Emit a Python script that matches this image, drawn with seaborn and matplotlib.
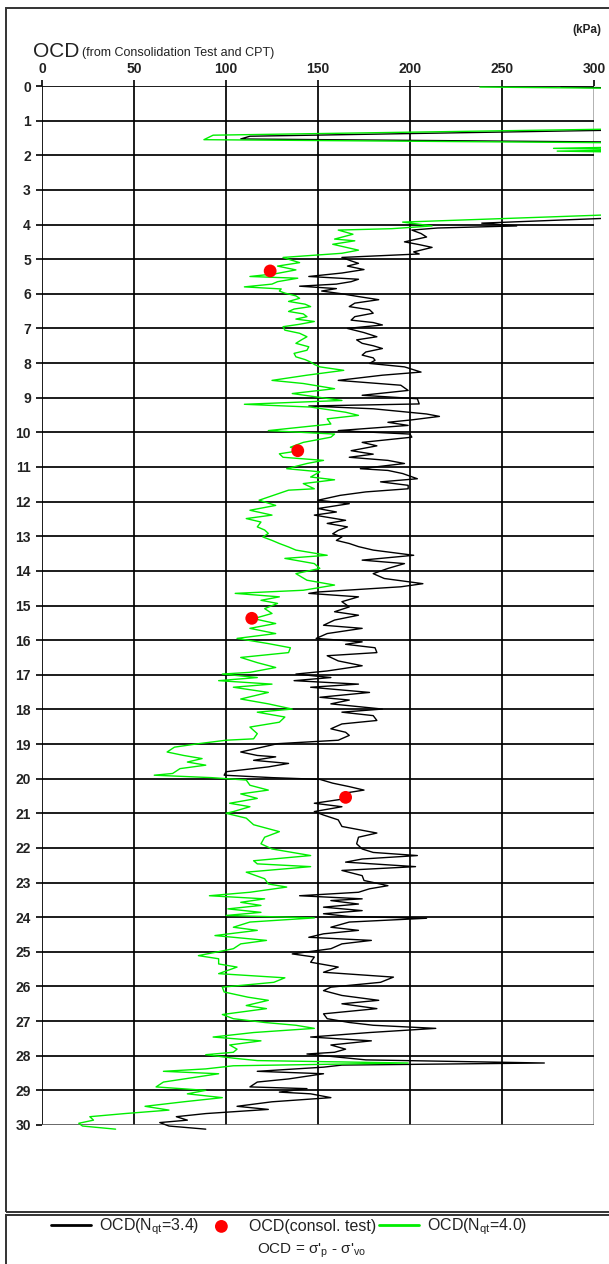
import matplotlib
matplotlib.use("Agg")
import matplotlib.pyplot as plt
from matplotlib.patches import Rectangle
import seaborn as sns

# ---------------- data ----------------
x_ticks = [0, 50, 100, 150, 200, 250, 300]
y_ticks = list(range(0, 31))

black_depth = [
    0.03, 0.08, 1.25, 1.45, 1.53, 1.63,
    3.75, 3.96, 4.04, 4.10, 4.16, 4.26, 4.36, 4.50, 4.58, 4.66, 4.79, 4.85, 4.95,
    5.05, 5.12, 5.20, 5.30, 5.40, 5.50, 5.58, 5.65, 5.72, 5.78, 5.85, 5.92, 6.00,
    6.08, 6.17, 6.27, 6.37, 6.46, 6.56, 6.66, 6.76, 6.83, 6.90, 7.00, 7.12, 7.24, 7.33, 7.43, 7.50, 7.58, 7.68, 7.77, 7.85, 7.92, 8.01,
    8.11, 8.26, 8.35, 8.50, 8.64, 8.79, 8.93, 9.03, 9.18, 9.24, 9.32, 9.47, 9.54, 9.64, 9.71, 9.80, 9.95, 10.05, 10.14, 10.29, 10.39, 10.53, 10.63, 10.72, 10.81, 10.90,
    11.05, 11.10, 11.19, 11.34, 11.43, 11.53, 11.63, 11.72, 11.82, 11.96, 12.06, 12.20, 12.30, 12.39, 12.54, 12.63, 12.73, 12.83, 12.93, 13.02, 13.12, 13.21, 13.30, 13.40,
    13.55, 13.69, 13.79, 13.93, 14.08, 14.22, 14.37, 14.46, 14.61, 14.65, 14.75, 14.89, 15.04, 15.18, 15.28, 15.42, 15.57, 15.66, 15.81, 15.95, 16.05, 16.12,
    16.22, 16.36, 16.45, 16.60, 16.74, 16.89, 16.98, 17.08, 17.17, 17.27, 17.36, 17.51, 17.65, 17.73, 17.84, 17.99, 18.08, 18.18, 18.32, 18.42, 18.56, 18.66, 18.75, 18.89,
    18.99, 19.23, 19.33, 19.37, 19.47, 19.56, 19.66, 19.80, 19.90, 19.97, 20.02, 20.13, 20.23, 20.33, 20.43, 20.57, 20.71, 20.81, 20.95, 21.05, 21.19, 21.38, 21.57,
    21.69, 21.88, 22.03, 22.13, 22.22, 22.32, 22.41, 22.54, 22.65, 22.80, 22.94, 23.09, 23.18, 23.28, 23.38, 23.47, 23.52, 23.62, 23.71, 23.81, 23.90, 23.98,
    24.03, 24.14, 24.29, 24.38, 24.48, 24.58, 24.67, 24.77, 24.91, 25.06, 25.15, 25.30, 25.44, 25.59, 25.73, 25.88, 26.02, 26.12, 26.26, 26.40, 26.50, 26.64, 26.79, 26.93,
    27.04, 27.12, 27.21, 27.33, 27.46, 27.57, 27.69, 27.81, 27.90, 27.95, 28.05, 28.12, 28.21, 28.27, 28.33, 28.45, 28.52, 28.67, 28.76, 28.90, 28.95, 29.05, 29.10, 29.21, 29.33, 29.46, 29.55, 29.67, 29.76, 29.86, 29.93, 30.03, 30.12,
]
black_ocd = [
    282, 340, 340, 113, 108, 340,
    340, 239, 258, 215, 201, 206, 209, 197, 205, 212, 202, 205, 163,
    168, 172, 166, 175, 163, 145, 172, 168, 160, 140, 160, 152, 163,
    172, 183, 170, 167, 178, 180, 170, 168, 180, 185, 166, 175, 182, 171, 174, 180, 185, 176, 174, 180, 181, 178,
    197, 206, 185, 161, 195, 199, 174, 204, 205, 145, 180, 209, 216, 201, 188, 199, 161, 200, 201, 174, 182, 168, 180, 167, 188, 197,
    173, 188, 196, 204, 184, 199, 199, 176, 162, 150, 167, 150, 160, 148, 165, 155, 166, 161, 158, 163, 160, 167, 172, 180,
    202, 174, 197, 188, 180, 186, 207, 195, 150, 145, 172, 163, 167, 159, 172, 159, 153, 174, 155, 149, 174, 165,
    181, 182, 155, 161, 174, 155, 138, 157, 137, 172, 146, 178, 151, 167, 157, 185, 163, 180, 182, 163, 157, 165, 167, 161,
    128, 108, 117, 127, 115, 134, 123, 100, 99, 125, 151, 158, 167, 175, 163, 166, 148, 163, 148, 153, 161, 163, 182,
    172, 171, 174, 180, 204, 174, 165, 203, 163, 174, 175, 188, 178, 172, 140, 174, 157, 172, 153, 174, 153, 167,
    209, 167, 157, 172, 153, 145, 179, 163, 157, 136, 148, 146, 161, 153, 191, 184, 157, 153, 163, 183, 163, 182, 153, 155,
    167, 180, 214, 178, 146, 179, 157, 165, 159, 144, 163, 176, 273, 163, 153, 117, 153, 134, 117, 113, 144, 129, 146, 157, 125, 106, 123, 89, 73, 79, 64, 69, 89,
]

green_depth = [
    0.03, 0.08, 1.22, 1.42, 1.55, 1.65, 1.75, 1.80, 1.84, 1.88, 1.92,
    3.66, 3.93, 4.04, 4.12, 4.16, 4.28, 4.42, 4.47, 4.57, 4.74, 4.83, 4.95,
    5.02, 5.10, 5.20, 5.31, 5.42, 5.50, 5.55, 5.65, 5.72, 5.80, 5.86, 5.92, 5.98,
    6.06, 6.13, 6.22, 6.30, 6.37, 6.44, 6.51, 6.58, 6.66, 6.73, 6.80, 6.88, 6.95, 7.05, 7.14, 7.24, 7.33, 7.43, 7.53, 7.63, 7.72, 7.82, 7.90, 7.97, 8.04,
    8.11, 8.21, 8.35, 8.50, 8.59, 8.74, 8.88, 9.08, 9.19, 9.27, 9.42, 9.51, 9.61, 9.76, 9.95, 10.05, 10.14, 10.29, 10.43, 10.53, 10.62, 10.72, 10.81, 10.90,
    11.05, 11.14, 11.29, 11.37, 11.48, 11.63, 11.67, 11.87, 11.96, 12.11, 12.25, 12.39, 12.49, 12.59, 12.73, 12.82, 12.92, 13.02, 13.12, 13.21, 13.31, 13.40,
    13.55, 13.64, 13.79, 13.93, 14.08, 14.27, 14.41, 14.56, 14.65, 14.75, 14.85, 14.94, 15.09, 15.23, 15.38, 15.52, 15.66, 15.81, 15.95, 16.10,
    16.22, 16.36, 16.50, 16.65, 16.79, 16.93, 16.98, 17.08, 17.17, 17.27, 17.36, 17.51, 17.70, 17.84, 17.99, 18.08, 18.22, 18.37, 18.51, 18.70, 18.85, 18.89,
    18.99, 19.09, 19.23, 19.33, 19.42, 19.52, 19.61, 19.71, 19.85, 19.90, 19.97, 20.04, 20.19, 20.33, 20.44, 20.57, 20.71, 20.81, 20.95, 21.00, 21.14, 21.33, 21.53,
    21.69, 21.88, 22.03, 22.22, 22.37, 22.46, 22.54, 22.70, 22.89, 23.04, 23.13, 23.28, 23.38, 23.47, 23.57, 23.66, 23.76, 23.86, 23.95,
    24.02, 24.14, 24.29, 24.38, 24.53, 24.67, 24.77, 24.91, 25.11, 25.20, 25.35, 25.44, 25.63, 25.75, 25.88, 26.02, 26.16, 26.31, 26.40, 26.55, 26.64, 26.81, 26.93,
    27.04, 27.12, 27.21, 27.33, 27.46, 27.57, 27.69, 27.81, 27.90, 27.97, 28.07, 28.14, 28.21, 28.29, 28.38, 28.45, 28.52, 28.67, 28.76, 28.90, 29.00, 29.10, 29.21, 29.33, 29.46, 29.57, 29.67, 29.76, 29.86, 29.95, 30.03, 30.12,
]
green_ocd = [
    238, 340, 340, 93, 88, 340, 330, 278, 330, 280, 330,
    340, 196, 212, 190, 161, 169, 159, 170, 158, 172, 163, 131,
    135, 140, 128, 138, 127, 113, 139, 128, 125, 110, 130, 129, 132,
    138, 140, 134, 143, 146, 137, 134, 142, 144, 138, 148, 140, 131, 132, 140, 144, 141, 138, 145, 144, 137, 138, 143, 146, 148,
    151, 164, 144, 125, 142, 159, 136, 163, 110, 146, 165, 172, 155, 157, 123, 159, 157, 142, 135, 140, 129, 131, 153, 144,
    133, 151, 146, 159, 142, 148, 134, 123, 118, 127, 113, 125, 111, 119, 117, 121, 123, 120, 125, 129, 134, 138,
    155, 132, 148, 151, 138, 144, 159, 142, 105, 129, 119, 128, 121, 125, 115, 127, 113, 127, 106, 123,
    135, 134, 108, 117, 127, 113, 98, 117, 96, 125, 104, 123, 108, 123, 136, 117, 132, 129, 113, 117, 115, 100,
    85, 72, 68, 77, 87, 79, 89, 75, 71, 61, 92, 111, 113, 123, 108, 117, 102, 113, 104, 100, 111, 115, 129,
    121, 119, 125, 146, 115, 117, 146, 111, 121, 123, 133, 113, 91, 121, 108, 119, 101, 119, 100,
    148, 113, 104, 117, 94, 122, 108, 104, 85, 96, 96, 106, 96, 132, 126, 98, 99, 112, 123, 111, 122, 98, 104,
    121, 138, 148, 115, 93, 119, 102, 106, 104, 89, 104, 117, 199, 104, 89, 66, 96, 77, 66, 62, 89, 79, 98, 77, 56, 69, 45, 26, 28, 20, 22, 40,
]

test_depth = [5.34, 10.53, 15.37, 20.54]
test_ocd = [124, 139, 114, 165]

labels = [r"OCD(N$_{\mathregular{qt}}$=3.4)", "OCD(consol. test)", r"OCD(N$_{\mathregular{qt}}$=4.0)"]

# ---------------- figure ----------------
sns.set_theme(style="white")
plt.rcParams["font.family"] = ["Liberation Sans", "DejaVu Sans"]

W, H = 609, 1264
fig = plt.figure(figsize=(W / 100, H / 100), dpi=100)
fig.patch.set_facecolor("white")


def fx(px):
    return px / W


def fy(py):
    return 1 - py / H


ax = fig.add_axes([fx(42), fy(1125), fx(594) - fx(42), fy(86) - fy(1125)])

sns.lineplot(x=black_ocd, y=black_depth, sort=False, estimator=None,
             color="black", linewidth=1.0, ax=ax)
sns.lineplot(x=green_ocd, y=green_depth, sort=False, estimator=None,
             color="#00ee00", linewidth=1.0, ax=ax)
sns.scatterplot(x=test_ocd, y=test_depth, color="#ff0000", s=85,
                edgecolor="none", ax=ax, zorder=5)

clip = Rectangle((0, -0.01), 1.012, 1.012, transform=ax.transAxes,
                 facecolor="none", edgecolor="none")
ax.add_patch(clip)
line_black, line_green = ax.lines[0], ax.lines[1]
for ln in (line_black, line_green):
    ln.set_clip_path(clip)

ax.set_xlim(0, 300)
ax.set_ylim(30, 0)
ax.set_xticks(x_ticks)
ax.set_yticks(y_ticks)
ax.xaxis.tick_top()
ax.set_xlabel("")
ax.set_ylabel("")
for s in ax.spines.values():
    s.set_visible(False)
ax.grid(True, color="black", linewidth=1.25)
ax.set_axisbelow(True)
ax.xaxis.get_gridlines()[-1].set_color("#a8a8a8")
ax.yaxis.get_gridlines()[-1].set_color("#555555")
ax.tick_params(axis="x", top=True, bottom=False, direction="out", length=4,
               width=1.2, color="black", pad=3, labelsize=10, labelcolor="#222222")
ax.tick_params(axis="y", left=True, direction="out", length=4,
               width=1.2, color="black", pad=4, labelsize=10, labelcolor="#222222")
for t in ax.get_xticklabels() + ax.get_yticklabels():
    t.set_fontweight("semibold")

# titles
fig.text(fx(33), fy(57), "OCD", fontsize=15, color="#222222", ha="left", va="baseline")
fig.text(fx(82), fy(56), "(from Consolidation Test and CPT)", fontsize=9,
         color="#222222", ha="left", va="baseline")
fig.text(fx(601), fy(30), "(kPa)", fontsize=8.5, fontweight="bold",
         color="#222222", ha="right", va="center")

# outer frames
fig.add_artist(Rectangle((fx(6), fy(1212)), fx(700) - fx(6), fy(8) - fy(1212),
                         transform=fig.transFigure, facecolor="none",
                         edgecolor="#333333", linewidth=1.4))
fig.add_artist(Rectangle((fx(6), fy(1290)), fx(700) - fx(6), fy(1215) - fy(1290),
                         transform=fig.transFigure, facecolor="none",
                         edgecolor="#333333", linewidth=1.4))

# legend
dots = ax.collections[0]
leg = fig.legend(handles=[line_black, dots, line_green], labels=labels, ncol=3,
                 loc="center", bbox_to_anchor=(fx(289), fy(1227)), frameon=False,
                 fontsize=11.5, handlelength=2.5, handletextpad=0.5,
                 columnspacing=0.15, labelcolor="#222222")
for lh in leg.get_lines():
    lh.set_linewidth(2.0)
fig.text(fx(312), fy(1251), r"OCD = σ'$_{\mathregular{p}}$ - σ'$_{\mathregular{vo}}$",
         fontsize=11, color="#222222", ha="center", va="center")

fig.savefig("out.png", dpi=100)
